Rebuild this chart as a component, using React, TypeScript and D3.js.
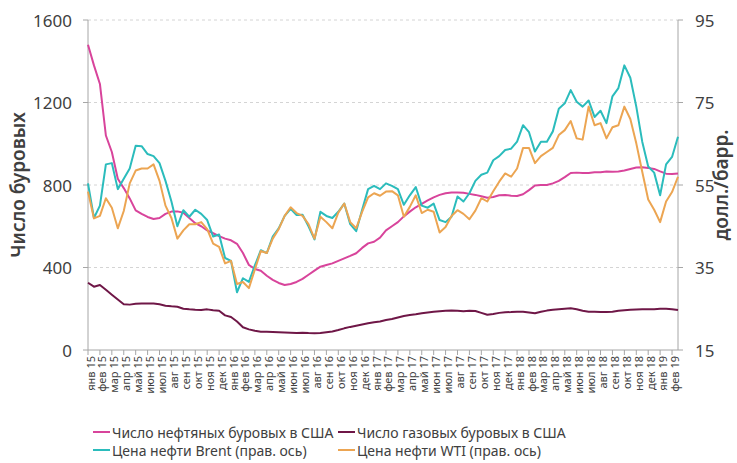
import React from "react";
import * as d3 from "d3";

// semi-monthly readings, Jan 2015 .. mid Feb 2019
const oilRigs = [
  1480, 1380, 1290, 1040, 960, 830, 785, 735, 677, 660,
  645, 635, 640, 660, 671, 672, 665, 640, 615, 600,
  580, 566, 552, 540, 532, 515, 470, 412, 393, 384,
  360, 340, 325, 315, 320, 330, 345, 365, 385, 404,
  412, 420, 432, 444, 456, 469, 495, 517, 525, 545,
  580, 600, 620, 648, 671, 692, 708, 725, 740, 752,
  760, 764, 764, 762, 757, 752, 745, 738, 742, 750,
  752, 748, 747, 755, 775, 798, 800, 800, 808, 820,
  838, 858, 860, 858, 858, 862, 862, 865, 864, 866,
  870, 878, 885, 886, 883, 878, 866, 855, 853, 856,
];

const gasRigs = [
  326, 307, 315, 292, 268, 245, 222, 220, 224, 225,
  226, 226, 222, 215, 212, 210, 200, 197, 195, 194,
  197, 193, 190, 168, 160, 138, 110, 100, 93, 89,
  88, 87, 86, 85, 84, 83, 84, 82, 81, 82,
  86, 90, 97, 105, 112, 118, 124, 130, 135, 138,
  145, 150, 158, 165, 170, 173, 178, 182, 185, 188,
  190, 191, 190, 188, 190, 189, 180, 171, 175, 180,
  183, 184, 186, 185, 182, 178, 185, 191, 195, 198,
  200, 202, 198, 190, 186, 185, 184, 184, 186, 190,
  193, 195, 196, 197, 197, 198, 200, 200, 198, 194,
];

const brent = [
  55.4, 47, 50, 60, 60.3, 54, 56.5, 59, 64.5, 64.4,
  62.5, 62, 60.3, 56, 51, 45, 48.9, 47.3, 49, 48,
  46.5, 42.5, 43, 37.3, 36.6, 29, 32.4, 31.5, 35.5, 39.2,
  38.5, 42.5, 44.5, 47.5, 49.2, 47.7, 47.8, 45, 41.8, 48.5,
  47.5, 47, 48.5, 50.5, 45.5, 43.8, 49, 54, 54.8, 54,
  55.4, 54.8, 54, 50.2, 52.5, 54.5, 50, 49.5, 50.5, 46.5,
  46, 47.3, 52.2, 51, 53, 56, 57.5, 58, 61, 62,
  63.5, 63.8, 65.5, 69.5, 67.8, 63.1, 65.5, 65.5, 68, 73.5,
  74.8, 78, 75.2, 74, 75.5, 71.5, 73, 70, 76.5, 78.5,
  84, 81, 74, 65.5, 59.5, 58, 52.5, 60, 61.8, 66.7,
];

const wti = [
  53.4, 46.9, 47.5, 51.8, 49.5, 44.5, 48.7, 55.4, 58.5, 59,
  59, 60, 56, 50, 47, 42, 44, 45.5, 45.5, 46,
  44.3, 40.8, 40, 36, 36.6, 31, 31.5, 30, 34.5, 39,
  38.5, 42, 44.3, 47.5, 49.6, 48.2, 47.5, 45.5, 42, 47.3,
  46, 44.5, 48.3, 50.5, 46, 44.5, 48.5, 52, 53, 52.4,
  53.4, 53.5, 52.5, 47.3, 49.7, 52.5, 48.2, 49, 48.5, 43.5,
  44.8, 47.5, 48.9, 48, 46.7, 48.8, 51.8, 51, 53.5, 55.8,
  57.8, 57, 59, 64, 64, 60.3, 62, 63, 64, 67.1,
  68.3, 70.5, 66.3, 66, 74, 69.5, 70, 66.3, 69, 69.5,
  74, 71, 65.1, 58.2, 51.5, 49, 46, 51, 53.3, 57,
];

const monthNames = ["янв", "фев", "мар", "апр", "май", "июн", "июл", "авг", "сен", "окт", "ноя", "дек"];
const years = ["15", "16", "17", "18", "19"];
const leftTicks = [0, 400, 800, 1200, 1600];
const rightTicks = [15, 35, 55, 75, 95];

const legendItems = [
  { label: "Число нефтяных буровых в США", color: "#d8449b" },
  { label: "Число газовых буровых в США", color: "#6f1747" },
  { label: "Цена нефти Brent (прав. ось)", color: "#2bbcbc" },
  { label: "Цена нефти WTI (прав. ось)", color: "#eca552" },
];

const monthLabels: string[] = [];
years.forEach((y) => monthNames.forEach((m) => monthLabels.push(`${m} ${y}`)));
const xLabels = monthLabels.slice(0, 50);

const W = 737;
const H = 463;
const plot = { left: 88, right: 678, top: 20, bottom: 350 };
const font = "'Noto Sans', sans-serif";
const textColor = "#404040";
const axisColor = "#a6a6a6";

export default function App() {
  const x = d3.scaleLinear().domain([0, 49.5]).range([plot.left, plot.right]);
  const yL = d3.scaleLinear().domain([0, 1600]).range([plot.bottom, plot.top]);
  const yR = d3.scaleLinear().domain([15, 95]).range([plot.bottom, plot.top]);

  const lineL = d3.line<number>().x((_, i) => x(i * 0.5)).y((d) => yL(d));
  const lineR = d3.line<number>().x((_, i) => x(i * 0.5)).y((d) => yR(d));

  const series = [
    { d: lineL(oilRigs), color: legendItems[0].color },
    { d: lineL(gasRigs), color: legendItems[1].color },
    { d: lineR(brent), color: legendItems[2].color },
    { d: lineR(wti), color: legendItems[3].color },
  ];

  return (
    <svg
      width={W}
      height={H}
      style={{ position: "absolute", left: 0, top: 0, background: "#fff" }}
      fontFamily={font}
    >
      {/* grid */}
      {leftTicks.slice(1).map((t) => (
        <line
          key={t}
          x1={plot.left}
          x2={plot.right}
          y1={yL(t)}
          y2={yL(t)}
          stroke="#d4d4d4"
          strokeDasharray="3,3"
        />
      ))}

      {/* axes */}
      <line x1={plot.left} x2={plot.left} y1={plot.top} y2={plot.bottom} stroke={axisColor} />
      <line x1={plot.right} x2={plot.right} y1={plot.top} y2={plot.bottom} stroke={axisColor} />
      <line x1={plot.left} x2={plot.right} y1={plot.bottom} y2={plot.bottom} stroke={axisColor} />

      {leftTicks.map((t) => (
        <g key={t}>
          <line x1={plot.left - 5} x2={plot.left} y1={yL(t)} y2={yL(t)} stroke={axisColor} />
          <text
            x={72}
            y={yL(t)}
            textAnchor="end"
            dominantBaseline="central"
            fontSize={17}
            fill={textColor}
          >
            {t}
          </text>
        </g>
      ))}
      {rightTicks.map((t) => (
        <g key={t}>
          <line x1={plot.right} x2={plot.right + 5} y1={yR(t)} y2={yR(t)} stroke={axisColor} />
          <text
            x={695}
            y={yR(t)}
            textAnchor="start"
            dominantBaseline="central"
            fontSize={17}
            fill={textColor}
          >
            {t}
          </text>
        </g>
      ))}

      {xLabels.map((lab, i) => (
        <g key={lab}>
          <line x1={x(i)} x2={x(i)} y1={plot.bottom} y2={plot.bottom + 5} stroke={axisColor} />
          <text
            transform={`translate(${x(i) + 2}, 356) rotate(-90)`}
            textAnchor="end"
            dominantBaseline="central"
            fontSize={11}
            fill={textColor}
          >
            {lab}
          </text>
        </g>
      ))}

      {/* axis titles */}
      <text
        transform="translate(18, 185) rotate(-90)"
        textAnchor="middle"
        dominantBaseline="central"
        fontSize={19}
        fontWeight={600}
        fill={textColor}
      >
        Число буровых
      </text>
      <text
        transform="translate(721, 185) rotate(-90)"
        textAnchor="middle"
        dominantBaseline="central"
        fontSize={19}
        fontWeight={600}
        fill={textColor}
      >
        долл./барр.
      </text>

      {/* lines */}
      {series.map((s, i) => (
        <path key={i} d={s.d ?? ""} fill="none" stroke={s.color} strokeWidth={2} strokeLinejoin="round" />
      ))}

      {/* legend */}
      {legendItems.map((item, i) => {
        const lx = i % 2 === 0 ? 93 : 338;
        const ly = i < 2 ? 432 : 450;
        return (
          <g key={item.label}>
            <line x1={lx} x2={lx + 17} y1={ly} y2={ly} stroke={item.color} strokeWidth={2} />
            <text x={lx + 19} y={ly} dominantBaseline="central" fontSize={14} fill={textColor}>
              {item.label}
            </text>
          </g>
        );
      })}
    </svg>
  );
}
